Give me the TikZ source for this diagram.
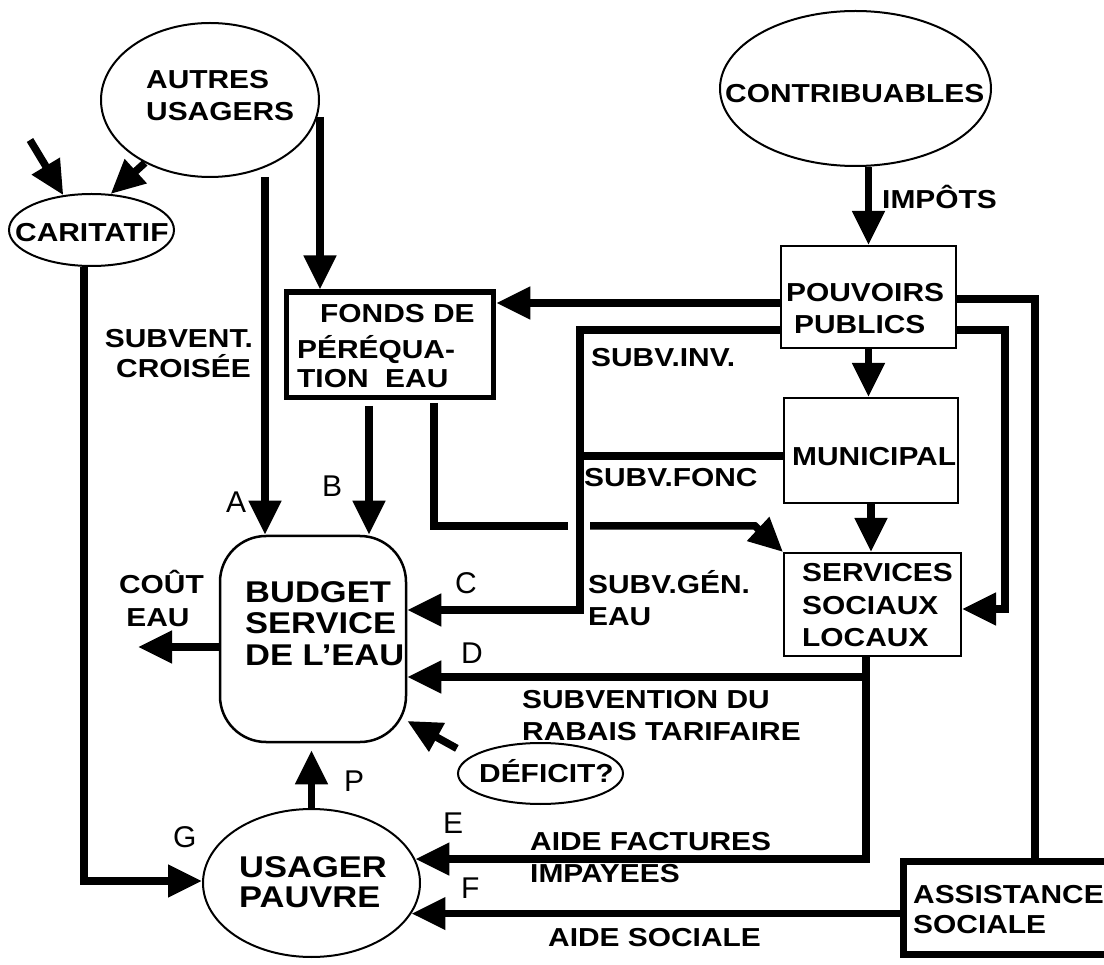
\documentclass[tikz,border=0pt]{standalone}
\usepackage{fontspec}
\setmainfont{Liberation Sans}
\newfontfamily\lblfont{Liberation Sans}[FakeStretch=1.15]
\newfontfamily\letfont{Liberation Sans}
\usetikzlibrary{arrows.meta,shapes.geometric}

\begin{document}
\begin{tikzpicture}[x=1pt,y=-1pt,
  ell/.style={ellipse, draw, line width=2pt, inner sep=0pt},
  panel/.style={rectangle, draw, line width=2pt, inner sep=0pt},
  bt/.style={font=\lblfont\bfseries\fontsize{26pt}{30pt}\selectfont, anchor=base west, inner sep=0pt},
  bigt/.style={font=\lblfont\bfseries\fontsize{30pt}{34pt}\selectfont, anchor=base west, inner sep=0pt},
  tag/.style={font=\letfont\fontsize{30pt}{34pt}\selectfont, anchor=base west, inner sep=0pt},
  feed/.style={line width=7.5pt},
  flow/.style={feed, -{Triangle[length=34pt,width=31pt]}},
]
\useasboundingbox (0,0) rectangle (1104,965);
\clip (0,0) rectangle (1104,965);

% ---------- shapes ----------
\node[ell, minimum width=218pt, minimum height=154pt] (autres) at (210,100) {};
\node[ell, minimum width=165pt, minimum height=72pt] (carit) at (91.5,230) {};
\node[ell, minimum width=271pt, minimum height=155pt] (contrib) at (855.5,88.5) {};
\node[panel, line width=5.5pt, minimum width=207pt, minimum height=105.5pt] (fonds) at (390,345) {};
\node[panel, minimum width=175pt, minimum height=102pt] (pouv) at (868.5,297) {};
\node[panel, minimum width=174pt, minimum height=105pt] (muni) at (871,450.5) {};
\node[panel, minimum width=177pt, minimum height=103pt] (ssl) at (872.5,604.5) {};
\node[panel, line width=2.5pt, rounded corners=46pt, minimum width=186pt, minimum height=206pt] (budget) at (313,639) {};
\node[ell, minimum width=217pt, minimum height=148pt] (usager) at (311.5,883) {};
\node[ell, minimum width=165pt, minimum height=61pt] (deficit) at (540.5,773.5) {};
\node[panel, line width=7pt, minimum width=246.5pt, minimum height=93pt] (assist) at (1026.75,908) {};

% ---------- texts ----------
\node[bt] (tAutres1) at (146,89) {AUTRES};
\node[bt] (tAutres2) at (146,121) {USAGERS};
\node[bt] (tCarit) at (15,242) {CARITATIF};
\node[bt] (tContrib) at (725,103) {CONTRIBUABLES};
\node[bt] (tImpots) at (882,209) {IMPÔTS};
\node[bt] (tPouv1) at (786,302) {POUVOIRS};
\node[bt] (tPouv2) at (794,334) {PUBLICS};
\node[bt] (tFonds1) at (320,323) {FONDS DE};
\node[bt] (tFonds2) at (297,359) {PÉRÉQUA-};
\node[bt] (tFonds3) at (297,388) {TION\ \ EAU};
\node[bt, anchor=base east] (tCroise1) at (253,348) {SUBVENT.};
\node[bt, anchor=base east] (tCroise2) at (251,378) {CROISÉE};
\node[bt] (tInv) at (591,367) {SUBV.INV.};
\node[bt] (tFonc) at (584,487) {SUBV.FONC};
\node[bt] (tMuni) at (792,466) {MUNICIPAL};
\node[bt] (tSsl1) at (802,582) {SERVICES};
\node[bt] (tSsl2) at (802,614) {SOCIAUX};
\node[bt] (tSsl3) at (802,646) {LOCAUX};
\node[bt] (tGen1) at (588,593) {SUBV.GÉN.};
\node[bt] (tGen2) at (588,625) {EAU};
\node[bt, anchor=base] (tCout1) at (161.5,594) {COÛT};
\node[bt, anchor=base] (tCout2) at (158,626) {EAU};
\node[bigt] (tBud1) at (245,602) {BUDGET};
\node[bigt] (tBud2) at (245,633) {SERVICE};
\node[bigt] (tBud3) at (245,665) {DE L’EAU};
\node[bt] (tRabais1) at (522,708) {SUBVENTION DU};
\node[bt] (tRabais2) at (522,740) {RABAIS TARIFAIRE};
\node[bt] (tDef) at (479,782) {DÉFICIT?};
\node[bt] (tAide1) at (530,850) {AIDE FACTURES};
\node[bt] (tAide2) at (530,882) {IMPAYEES};
\node[bt] (tSoc) at (548,946) {AIDE SOCIALE};
\node[bt] (tAss1) at (913,903) {ASSISTANCE};
\node[bt] (tAss2) at (913,933) {SOCIALE};
\node[bigt] (tUs1) at (239,877) {USAGER};
\node[bigt] (tUs2) at (239,907) {PAUVRE};

\node[tag] (lA) at (226,513) {A};
\node[tag] (lB) at (322,497) {B};
\node[tag] (lC) at (455,593) {C};
\node[tag] (lD) at (461,663) {D};
\node[tag] (lE) at (443,833) {E};
\node[tag] (lF) at (461,898) {F};
\node[tag] (lG) at (173,847) {G};
\node[tag] (lP) at (344,791) {P};

% ---------- bend points and free ends ----------
\coordinate (kCar) at (30,140);
\coordinate (kA) at (265,177);
\coordinate (kFa) at (320,117);
\coordinate (kB) at (369,406);
\coordinate (kQ) at (434,403);
\coordinate (kQ1) at (434,526);
\coordinate (kQ2) at (568,526);
\coordinate (kQ3) at (590,526);
\coordinate (kQ4) at (755,526);
\coordinate (kPy) at (780,303);
\coordinate (kS1) at (580,330);
\coordinate (kS2) at (580,456);
\coordinate (kS3) at (580,610);
\coordinate (kR1) at (1035,299);
\coordinate (kR2) at (1005,330);
\coordinate (kR3) at (1005,609);
\coordinate (kD) at (866,677);
\coordinate (kC) at (138,647);
\coordinate (kG) at (84,881);

% ---------- connectors ----------
\draw[flow] (kCar) -- (carit.129);
\draw[flow] (autres.224) -- (carit.62);
\draw[flow] (kA) -- (kA |- budget.north);
\draw[flow] (kFa) -- (kFa |- fonds.north);
\draw[flow] (kB) -- (kB |- budget.north);
\draw[feed] (kQ) -- (kQ1) -- (kQ2);
\draw[flow] (kQ3) -- (kQ4) -- (ssl.north west);
\draw[flow] (kPy -| pouv.west) -- (kPy -| fonds.east);
\draw[flow] (kS1 -| pouv.west) -- (kS1) -- (kS3) -- (kS3 -| budget.east);
\draw[feed] (kS2 -| muni.west) -- (kS2);
\draw[flow] (contrib.south -| pouv.north) -- (pouv.north);
\draw[flow] (pouv.south) -- (pouv.south |- muni.north);
\draw[flow] (muni.south) -- (muni.south |- ssl.north);
\draw[feed] (kR1 -| pouv.east) -- (kR1) -- (kR1 |- assist.north);
\draw[flow] (kR2 -| pouv.east) -- (kR2) -- (kR3) -- (kR3 -| ssl.east);
\draw[flow] (kD |- ssl.south) -- (kD) -- (kD -| budget.east);
\draw[flow] (kD) -- (kD |- usager.13) -- (usager.13);
\draw[flow] (assist.west |- usager.-17) -- (usager.-17);
\draw[flow] (kC -| budget.west) -- (kC);
\draw[flow, shorten >=7pt] (usager.north) -- (usager.north |- budget.south);
\draw[flow, shorten <=16pt] (deficit.166) -- (budget.-41);
\draw[flow] (kG |- carit.south) -- (kG) -- (kG -| usager.west);
\end{tikzpicture}
\end{document}
